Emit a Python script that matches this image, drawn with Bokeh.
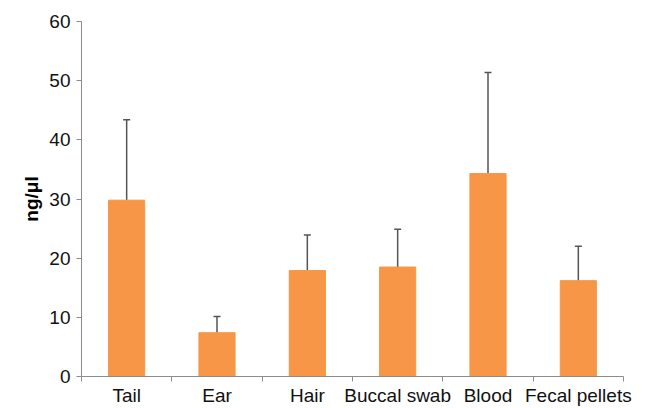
from bokeh.plotting import figure
from bokeh.models import Range1d, FixedTicker, ColumnDataSource, Whisker, TeeHead
from bokeh.embed import file_html
from bokeh.resources import INLINE

categories = ["Tail", "Ear", "Hair", "Buccal swab", "Blood", "Fecal pellets"]
means = [29.8, 7.4, 17.9, 18.5, 34.3, 16.2]
err_upper = [43.4, 10.15, 23.9, 24.9, 51.4, 22.0]
y_ticks = [0, 10, 20, 30, 40, 50, 60]

xs = [i + 0.5 for i in range(len(categories))]
src = ColumnDataSource(dict(x=xs, top=means, upper=err_upper, cat=categories))

p = figure(width=648, height=408, output_backend="svg", toolbar_location=None,
           x_range=Range1d(0, len(categories)), y_range=Range1d(0, 60),
           min_border_left=81, min_border_top=21, min_border_right=25, min_border_bottom=20)
p.outline_line_color = None
p.xgrid.grid_line_color = None
p.ygrid.grid_line_color = None
p.background_fill_color = "white"

p.vbar(x="x", top="top", width=0.4, bottom=0, source=src,
       fill_color="#F79646", line_color="#F79646")

w = Whisker(base="x", lower="top", upper="upper", source=src,
            line_color="#555555", line_width=1.5,
            upper_head=TeeHead(size=7, line_color="#555555", line_width=1.5),
            lower_head=None)
p.add_layout(w)

font = "Liberation Sans"
# x axis
p.xaxis.ticker = FixedTicker(ticks=xs, minor_ticks=list(range(len(categories) + 1)))
p.xaxis.major_label_overrides = {x: c for x, c in zip(xs, categories)}
p.xaxis.major_tick_line_color = None
p.xaxis.major_tick_out = 0
p.xaxis.major_tick_in = 0
p.xaxis.minor_tick_in = 0
p.xaxis.minor_tick_out = 5
p.xaxis.minor_tick_line_color = "#8c8c8c"
p.xaxis.axis_line_color = "#8c8c8c"
p.xaxis.major_label_text_font = font
p.xaxis.major_label_text_font_size = "19px"
p.xaxis.major_label_text_color = "#111111"
p.xaxis.major_label_standoff = 3

# y axis
p.yaxis.ticker = FixedTicker(ticks=y_ticks)
p.yaxis.minor_tick_line_color = None
p.yaxis.major_tick_in = 0
p.yaxis.major_tick_out = 5
p.yaxis.major_tick_line_color = "#8c8c8c"
p.yaxis.axis_line_color = "#8c8c8c"
p.yaxis.major_label_text_font = font
p.yaxis.major_label_text_font_size = "19px"
p.yaxis.major_label_text_color = "#111111"
p.yaxis.major_label_standoff = 6
p.yaxis.axis_label = "ng/μl"
p.yaxis.axis_label_text_font = font
p.yaxis.axis_label_text_font_style = "bold"
p.yaxis.axis_label_text_font_size = "19px"
p.yaxis.axis_label_text_color = "#000000"
p.yaxis.axis_label_standoff = 4

open("out.html", "w").write(file_html(p, INLINE))
